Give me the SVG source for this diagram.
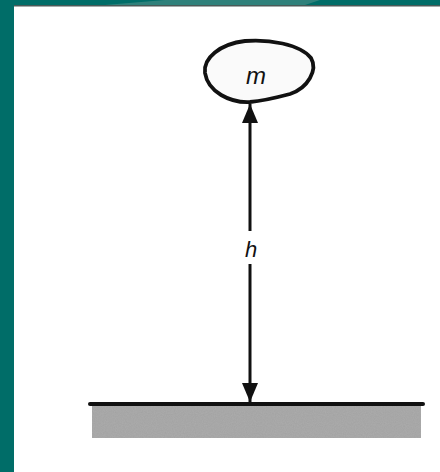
<svg xmlns="http://www.w3.org/2000/svg" width="440" height="472" viewBox="0 0 440 472">
<style>
.lbl{font-family:"Liberation Sans",Arial,sans-serif;font-style:italic;fill:#111;text-anchor:middle}
.ln{stroke:#111;stroke-width:3;fill:none}
</style>
<defs>
<marker id="ah" markerWidth="20" markerHeight="16" refX="19" refY="8" orient="auto" markerUnits="userSpaceOnUse">
<path d="M0,0 L19,8 L0,16 Z" fill="#111"/>
</marker>
<filter id="grain" x="0" y="0" width="100%" height="100%">
<feTurbulence type="fractalNoise" baseFrequency="0.9" numOctaves="2" seed="3" result="n"/>
<feColorMatrix in="n" type="matrix" values="0 0 0 0 0.5  0 0 0 0 0.5  0 0 0 0 0.5  0 0 0 0.4 0"/>
<feComposite in2="SourceGraphic" operator="in"/>
</filter>
</defs>
<rect width="440" height="472" fill="#ffffff"/>
<rect x="0" y="0" width="440" height="5" fill="#006d68"/>
<path d="M320,0 L165,0 L105,5 L305,5 Z" fill="#4f8f88" opacity="0.6"/>
<rect x="14" y="5" width="426" height="1.5" fill="#4a5a58"/>
<rect x="0" y="0" width="14" height="472" fill="#006d68"/>
<g id="ground">
<rect x="92" y="405" width="329" height="33" fill="#a2a2a2"/>
<rect x="92" y="405" width="329" height="33" fill="#a2a2a2" filter="url(#grain)"/>
<line x1="90" y1="404" x2="423" y2="404" stroke="#111" stroke-width="4" stroke-linecap="round"/>
</g>
<g id="mass">
<path d="M205,73 C203,58 220,44 245,41 C268,39 300,44 311,58 C318,70 308,88 290,94 C275,98 262,101 250,102 C230,103 208,92 205,73 Z" fill="#fafafa" stroke="#111" stroke-width="3.8"/>
<text class="lbl" x="256" y="84" font-size="24">m</text>
</g>
<g id="connectors">
<line class="ln" x1="250" y1="231" x2="250" y2="104" marker-end="url(#ah)"/>
<line class="ln" x1="250" y1="264" x2="250" y2="402" marker-end="url(#ah)"/>
<text class="lbl" x="251" y="257" font-size="22">h</text>
</g>
</svg>
